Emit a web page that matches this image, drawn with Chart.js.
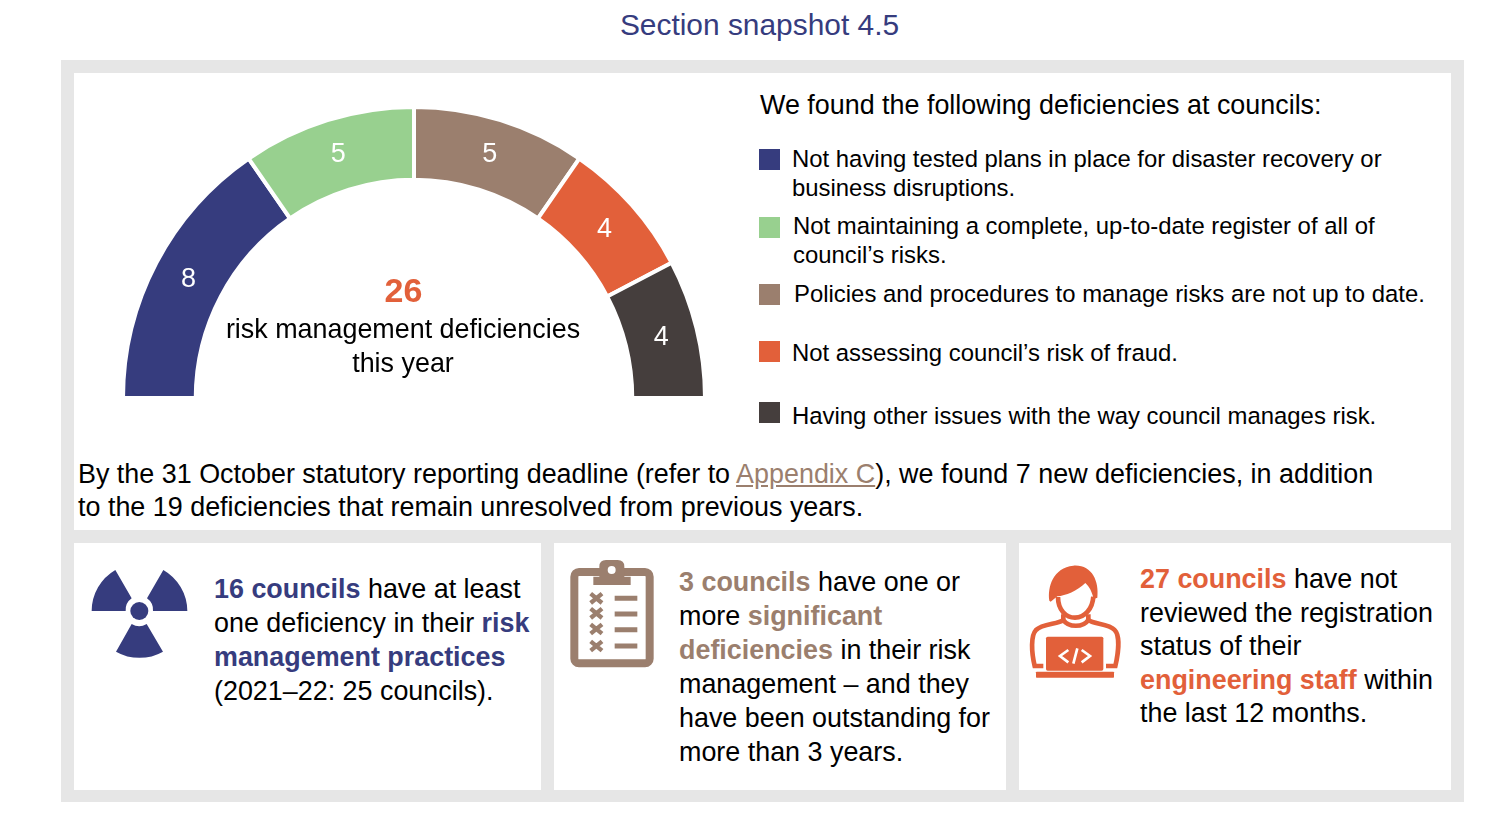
<!DOCTYPE html>
<html>
<head>
<meta charset="utf-8">
<script src="https://cdn.jsdelivr.net/npm/chart.js@4"></script>
<style>
  html, body { margin: 0; padding: 0; background: #fff; }
  body { width: 1496px; height: 832px; position: relative; overflow: hidden; font-family: "Liberation Sans", Arial, sans-serif; color: #000; }
  .box { position: absolute; background: #fff; }
  .t { position: absolute; white-space: nowrap; }
  .swatch { position: absolute; width: 21px; height: 21px; left: 759px; }
  svg, canvas { position: absolute; }
  .navy { color: #363c7e; font-weight: bold; }
  .brown { color: #9b7f6e; font-weight: bold; }
  .orange { color: #e2603a; font-weight: bold; }
  a { color: #9b7f6e; }
  .callout { font-size: 26.9px; line-height: 34px; }
</style>
</head>
<body>
<div class="t" style="left:0;width:1519px;text-align:center;top:8px;font-size:29.9px;line-height:34px;color:#363c7e">Section snapshot 4.5</div>
<div style="position:absolute;left:61px;top:60px;width:1403px;height:742px;background:#e6e6e6"></div>
<div class="box" style="left:74px;top:73px;width:1377px;height:457px"></div>
<div class="box" style="left:74px;top:543px;width:467px;height:247px"></div>
<div class="box" style="left:554px;top:543px;width:452px;height:247px"></div>
<div class="box" style="left:1019px;top:543px;width:432px;height:247px"></div>

<canvas id="gauge" width="590" height="295" style="left:119px;top:105px"></canvas>

<div class="t orange" style="left:203px;width:401px;text-align:center;top:271px;font-size:34px;line-height:38px">26</div>
<div class="t" style="left:203px;width:400px;text-align:center;top:312px;font-size:26.9px;line-height:34px">risk management deficiencies<br>this year</div>

<div class="t" style="left:760px;top:88px;font-size:26.9px;line-height:34px">We found the following deficiencies at councils:</div>
<div id="legend"></div>

<div class="t" style="left:78px;top:458px;font-size:26.92px;line-height:33px">By the 31 October statutory reporting deadline (refer to <a href="#">Appendix C</a>), we found 7 new deficiencies, in addition<br>to the 19 deficiencies that remain unresolved from previous years.</div>

<svg style="left:80px;top:550px" width="120" height="130" viewBox="0 0 360 390">
  <g fill="#363c7e">
    <circle cx="178" cy="183" r="27"/>
    <path d="M35 183 A143 143 0 0 1 106 60 L155 145 A43 43 0 0 0 137 183 Z"/>
    <path d="M322 183 A143 143 0 0 0 250 60 L201 145 A43 43 0 0 1 219 183 Z"/>
    <path d="M108 305 A143 143 0 0 0 249 305 L200 222 A43 43 0 0 1 155 222 Z"/>
  </g>
</svg>

<svg style="left:560px;top:550px" width="110" height="130" viewBox="0 0 330 390">
  <rect x="43" y="66" width="226" height="274" rx="14" fill="#fff" stroke="#9b7f6e" stroke-width="24"/>
  <path d="M100 105 V80 H118 V50 Q118 30 138 30 H173 Q193 30 193 50 V80 H212 V105 Z" fill="#9b7f6e"/>
  <circle cx="155" cy="60" r="12" fill="#fff"/>
  <g stroke="#9b7f6e" stroke-width="13" fill="none">
    <path d="M92 131 L126 159 M126 131 L92 159"/>
    <path d="M92 176 L126 204 M126 176 L92 204"/>
    <path d="M92 223 L126 251 M126 223 L92 251"/>
    <path d="M92 274 L126 302 M126 274 L92 302"/>
    <path d="M164 145 H232 M164 192 H232 M164 239 H232 M164 288 H232" stroke-width="15"/>
  </g>
</svg>

<svg style="left:1020px;top:555px" width="110" height="130" viewBox="0 0 330 390">
  <path d="M88 137 C82 95 100 38 160 32 C215 28 238 78 232 128 L221 132 C216 110 208 95 196 84 C172 108 136 122 112 124 L92 140 Z" fill="#e2603a"/>
  <g fill="none" stroke="#e2603a" stroke-width="14">
    <path d="M114 126 C114 165 138 188 165 188 C195 188 218 160 220 125"/>
    <path d="M130 178 V195 C145 218 190 218 205 195 V178"/>
    <path d="M130 195 C115 208 68 205 48 225 C32 242 34 290 44 333 L70 333"/>
    <path d="M205 195 C220 208 266 205 284 225 C300 242 296 290 286 333 L258 333"/>
  </g>
  <rect x="78" y="245" width="172" height="102" rx="5" fill="#e2603a"/>
  <rect x="48" y="350" width="234" height="18" rx="2" fill="#e2603a"/>
  <path d="M145 285 L120 303 L145 322 M172 280 L160 326 M185 285 L210 303 L185 322" fill="none" stroke="#fff" stroke-width="8"/>
</svg>

<div class="t callout" style="left:214px;top:572px"><span class="navy">16 councils</span> have at least<br>one deficiency in their <span class="navy">risk</span><br><span class="navy">management practices</span><br>(2021–22: 25 councils).</div>
<div class="t callout" style="left:679px;top:565px"><span class="brown">3 councils</span> have one or<br>more <span class="brown">significant</span><br><span class="brown">deficiencies</span> in their risk<br>management – and they<br>have been outstanding for<br>more than 3 years.</div>
<div class="t callout" style="left:1140px;top:563px;line-height:33.5px"><span class="orange">27 councils</span> have not<br>reviewed the registration<br>status of their<br><span class="orange">engineering staff</span> within<br>the last 12 months.</div>

<script>
const categories = [
  "Not having tested plans in place for disaster recovery or business disruptions.",
  "Not maintaining a complete, up-to-date register of all of council’s risks.",
  "Policies and procedures to manage risks are not up to date.",
  "Not assessing council’s risk of fraud.",
  "Having other issues with the way council manages risk.",
];
const deficiencies = [8, 5, 5, 4, 4];
const legendLines = [
  ["Not having tested plans in place for disaster recovery or", "business disruptions."],
  ["Not maintaining a complete, up-to-date register of all of", "council’s risks."],
  ["Policies and procedures to manage risks are not up to date."],
  ["Not assessing council’s risk of fraud."],
  ["Having other issues with the way council manages risk."],
];
const sliceColours = ["#363c7e", "#98d08f", "#9b7f6e", "#e2603a", "#453e3d"];

// legend rows are not evenly spaced in the original
const swatchTops = [149, 217, 284, 341, 402];
const legendLefts = [792, 793, 794, 792, 792];
const legendTops = [144, 211, 279, 338, 401];

const legend = document.getElementById("legend");
legendLines.forEach((lines, i) => {
  const swatch = document.createElement("div");
  swatch.className = "swatch";
  swatch.style.top = swatchTops[i] + "px";
  swatch.style.background = sliceColours[i];
  legend.appendChild(swatch);

  const text = document.createElement("div");
  text.className = "t";
  text.style.cssText = `left:${legendLefts[i]}px;top:${legendTops[i]}px;font-size:23.9px;line-height:29px`;
  text.innerHTML = lines.join("<br>");
  legend.appendChild(text);
});

const sliceLabels = {
  id: "sliceLabels",
  afterDatasetsDraw(chart) {
    const ctx = chart.ctx;
    ctx.save();
    ctx.fillStyle = "#fff";
    ctx.font = '27px "Liberation Sans"';
    ctx.textAlign = "center";
    ctx.textBaseline = "middle";
    chart.getDatasetMeta(0).data.forEach((arc, i) => {
      const p = arc.getCenterPoint();
      ctx.fillText(deficiencies[i], p.x, p.y);
    });
    ctx.restore();
  },
};

new Chart(document.getElementById("gauge").getContext("2d"), {
  type: "doughnut",
  data: {
    labels: categories,
    datasets: [
      {
        data: deficiencies,
        backgroundColor: sliceColours,
        borderColor: "#fff",
        borderWidth: 4,
      },
    ],
  },
  options: {
    responsive: false,
    animation: false,
    rotation: -90,
    circumference: 180,
    cutout: "75%",
    plugins: {
      legend: { display: false },
      tooltip: { enabled: false },
    },
  },
  plugins: [sliceLabels],
});
</script>
</body>
</html>
